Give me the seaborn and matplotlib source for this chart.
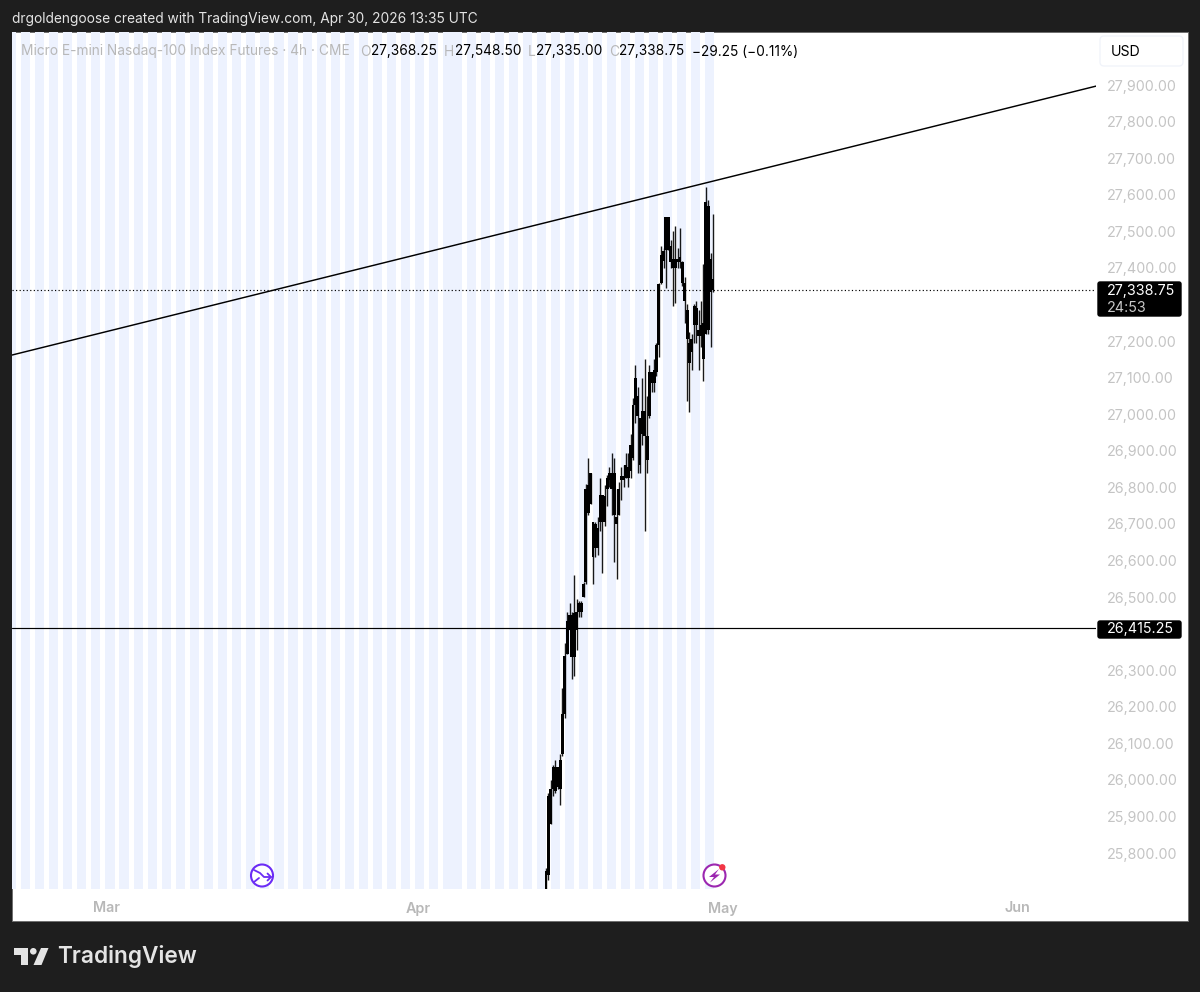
import numpy as np
import pandas as pd
import matplotlib
matplotlib.use("Agg")
import matplotlib.pyplot as plt
from matplotlib.patches import Rectangle, FancyBboxPatch, Circle, Polygon
import seaborn as sns

# Micro E-mini Nasdaq-100 futures, 4h bars
highs = [25760,25965,26000,26040,26055,26035,26070,26250,26375,26460,26485,26460,
         26560,26495,26490,26490,26540,26810,26880,26840,26705,26705,26720,26825,
         26780,26805,26835,26855,26895,26880,26795,26815,26855,26860,26895,26895,
         26945,27045,27135,27075,26990,27100,27150,27050,27135,27115,27150,27195,
         27360,27460,27455,27540,27540,27475,27500,27515,27455,27510,27420,27375,
         27300,27225,27220,27300,27310,27285,27310,27410,27620,27585,27440,27548.5]
lows = [25685,25725,25880,25955,25965,25975,25930,26065,26170,26345,26410,26275,
        26285,26355,26445,26445,26500,26535,26725,26755,26535,26610,26615,26680,
        26565,26695,26750,26800,26725,26595,26550,26725,26765,26800,26825,26800,
        26825,26875,26975,26840,26840,26915,26680,26840,26990,27060,27060,27105,
        27155,27355,27400,27345,27450,27400,27295,27305,27400,27400,27350,27250,
        27035,27005,27120,27195,27195,27120,27185,27090,27220,27220,27185,27335]
opens = [25685,25740,25880,25975,26035,25980,25975,26070,26180,26345,26410,26450,
         26335,26460,26460,26485,26500,26540,26805,26840,26705,26700,26635,26705,
         26780,26705,26795,26820,26795,26840,26700,26725,26820,26820,26825,26855,
         26845,26880,27025,27050,26990,27010,26940,26940,26995,27085,27085,27115,
         27190,27360,27420,27450,27540,27415,27400,27425,27415,27430,27415,27360,
         27285,27195,27170,27245,27290,27230,27215,27250,27220,27230,27425,27368.25]
closes = [25750,25955,25975,26035,25970,26035,26055,26180,26340,26435,26450,26335,
          26455,26410,26485,26460,26535,26795,26730,26755,26610,26635,26690,26780,
          26705,26775,26825,26840,26840,26725,26720,26795,26830,26830,26860,26825,
          26915,27025,27100,26995,26860,26945,27010,26875,27115,27115,27120,27190,
          27355,27435,27445,27540,27450,27460,27425,27400,27425,27415,27360,27310,
          27205,27140,27205,27295,27245,27215,27245,27150,27580,27570,27335,27338.75]

last_price = 27338.75
level_price = 26415.25
trend_bars = [-227.2, 234.0]
trend_prices = [27161.7, 27897.0]

# 26,400 and 27,300 sit behind the price tags, so they carry no label
price_ticks = [p for p in range(25800, 28000, 100) if p not in (26400, 27300)]
month_labels = ["Mar", "Apr", "May", "Jun"]
month_bars = [-187.2, -54.5, 75.3, 200.4]

BG = "#1e1e1e"
GREY = "#b8b8b8"
BLUE = "#edf2fe"

sns.set_theme(style="white")
plt.rcParams["font.family"] = ["Inter", "DejaVu Sans"]

fig = plt.figure(figsize=(12, 9.92), dpi=100, facecolor=BG)

# pixel-addressed layer for the panel, header, footer and overlays
chrome = fig.add_axes([0, 0, 1, 1], zorder=0)
chrome.set_xlim(0, 1200)
chrome.set_ylim(992, 0)
chrome.axis("off")
chrome.add_patch(Rectangle((12, 32), 1176, 889, fc="white", ec="#707070", lw=0.7))

ax = fig.add_axes([12 / 1200, 1 - 889 / 992, 1084 / 1200, 857 / 992], zorder=1)
ax.set_facecolor("none")
for s in ax.spines.values():
    s.set_visible(False)
ax.set_xlim(-227.2, 234.0)
ax.set_ylim(25701.6, 28045)

# session shading, with the long holiday session in early April
for start in np.arange(-229.39, -49, 5.99):
    ax.axvspan(start, start + 3.9, color=BLUE, lw=0, zorder=0)
ax.axvspan(-43.66, -35.75, color=BLUE, lw=0, zorder=0)
for start in np.arange(-33.6, 68, 5.96):
    ax.axvspan(start, start + 3.9, color=BLUE, lw=0, zorder=0)

bars = pd.DataFrame({"open": opens, "high": highs, "low": lows, "close": closes})
bars["bar"] = bars.index
bars["top"] = bars[["open", "close"]].max(axis=1)
bars["bottom"] = bars[["open", "close"]].min(axis=1)

ax.vlines(bars["bar"], bars["low"], bars["high"], color="black", lw=1.0, alpha=0.9, zorder=3)
ax.bar(bars["bar"], bars["top"] - bars["bottom"], bottom=bars["bottom"],
       width=1.25, color="black", lw=0, zorder=3)

trend = pd.DataFrame({"bar": trend_bars, "price": trend_prices})
sns.lineplot(data=trend, x="bar", y="price", color="black", lw=1.05, ax=ax, zorder=4)
ax.axhline(level_price, color="black", lw=0.85, zorder=4)
ax.axhline(last_price, color="black", lw=0.85, ls=(0, (1, 2)), zorder=4)

ax.yaxis.tick_right()
ax.set_yticks(price_ticks, [f"{p:,.2f}" for p in price_ticks])
ax.set_xticks(month_bars, month_labels, fontweight="semibold")
ax.tick_params(axis="y", length=0, pad=8, labelsize=10.3, labelcolor="#c4c4c4")
ax.tick_params(axis="x", length=0, pad=9, labelsize=10.3, labelcolor=GREY)
ax.set_xlabel("")
ax.set_ylabel("")

# header line
chrome.text(12, 19.5, "drgoldengoose created with TradingView.com, Apr 30, 2026 13:35 UTC",
            color="#e4e4e4", fontsize=9.9, va="center", ha="left")

# OHLC legend
over = fig.add_axes([0, 0, 1, 1], zorder=2)
over.set_xlim(0, 1200)
over.set_ylim(992, 0)
over.axis("off")
over.text(21, 51.5, "Micro E-mini Nasdaq-100 Index Futures · 4h · CME", color=GREY,
          fontsize=9.9, va="center")
for letter, lx, value, vx in [("O", 360, "27,368.25", 371), ("H", 444, "27,548.50", 455),
                              ("L", 528, "27,335.00", 536), ("C", 609, "27,338.75", 619)]:
    over.text(lx, 51.5, letter, color=GREY, fontsize=9.9, va="center")
    over.text(vx, 51.5, value, color="black", fontsize=9.85, va="center")
over.text(692, 51.5, "−29.25 (−0.11%)", color="black", fontsize=9.85, va="center")

# currency button
over.add_patch(FancyBboxPatch((1100, 36), 83, 30, boxstyle="round,pad=0,rounding_size=4",
                              fc="white", ec="#f0f3fa", lw=0.9))
over.text(1111, 51.5, "USD", color="black", fontsize=10.2, va="center")

# price tags
over.add_patch(FancyBboxPatch((1098, 282), 83, 34, boxstyle="round,pad=0,rounding_size=2",
                              fc="black", ec="black", lw=1))
over.text(1107, 291, "27,338.75", color="white", fontsize=10.3, va="center")
over.text(1107, 307.5, "24:53", color="#c8c8c8", fontsize=10.3, va="center")
over.add_patch(FancyBboxPatch((1098, 621), 83, 17, boxstyle="round,pad=0,rounding_size=2",
                              fc="black", ec="black", lw=1))
over.text(1107, 629.5, "26,415.25", color="white", fontsize=10.3, va="center")

# event markers along the bottom of the pane
VIOLET = "#6b2cf5"
over.add_patch(Circle((262, 875.5), 11, fc="white", ec=VIOLET, lw=1.5))
over.plot([254, 260, 264, 271], [870, 873, 877, 877], color=VIOLET, lw=1.3)
over.plot([254, 259], [882, 878], color=VIOLET, lw=1.3)
over.plot([267.5, 271, 267.5], [873.5, 877, 880.5], color=VIOLET, lw=1.3)

PURPLE = "#9c27b0"
over.add_patch(Circle((714.5, 875.5), 11, fc="white", ec=PURPLE, lw=1.5))
over.add_patch(Polygon([(719, 869), (709, 877), (714, 877), (710, 882.5), (720, 874.5), (715, 874.5)],
                       closed=True, fc=PURPLE, ec="none"))
over.add_patch(Circle((722.3, 867.3), 3.2, fc="#f23645", ec="none"))

# footer wordmark
MARK = "#e4e4e4"
over.add_patch(Polygon([(14, 948), (28, 948), (28, 965), (21, 965), (21, 955), (14, 955)],
                       closed=True, fc=MARK, ec="none"))
over.add_patch(Circle((33.3, 951.3), 3.3, fc=MARK, ec="none"))
over.add_patch(Polygon([(41, 948), (48.5, 948), (41.5, 965), (33.5, 965)], closed=True, fc=MARK, ec="none"))
over.text(57, 957, "TradingView", color=MARK, fontsize=16.3, fontweight="semibold", va="center")

fig.savefig("out.png", dpi=100, facecolor=BG)
